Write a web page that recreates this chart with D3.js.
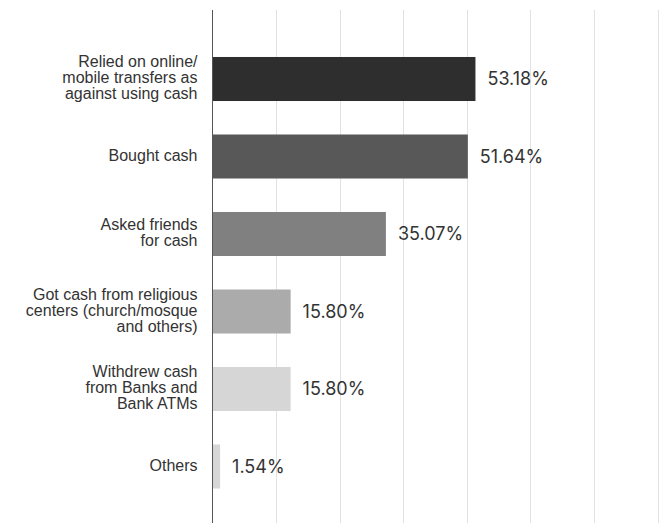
<!DOCTYPE html>
<html>
<head>
<meta charset="utf-8">
<script src="https://cdn.jsdelivr.net/npm/d3@7"></script>
<style>
  html, body { margin: 0; padding: 0; background: #fff; }
  svg { display: block; font-family: Inter, "Noto Sans", sans-serif; }
</style>
</head>
<body>
<svg id="chart" width="659" height="523"></svg>
<script>
// Ways people got cash (share of respondents)
const categories = [
  ["Relied on online/", "mobile transfers as", "against using cash"],
  ["Bought cash"],
  ["Asked friends", "for cash"],
  ["Got cash from religious", "centers (church/mosque", "and others)"],
  ["Withdrew cash", "from Banks and", "Bank ATMs"],
  ["Others"]
];
const values = [53.18, 51.64, 35.07, 15.80, 15.80, 1.54];
const valueLabels = ["53.18%", "51.64%", "35.07%", "15.80%", "15.80%", "1.54%"];
const barColors = ["#2e2e2e", "#585858", "#808080", "#ababab", "#d6d6d6", "#d6d6d6"];

const svg = d3.select("#chart");
const plot = { left: 212.5, right: 657.5, top: 10, bottom: 523 };
const xMax = 90, gridCount = 7;

const x = d3.scaleLinear().domain([0, xMax]).range([plot.left, plot.right]);
const y = d3.scaleBand()
  .domain(d3.range(categories.length))
  .range([40.25, 505.25])
  .paddingInner(0.432)
  .paddingOuter(0.216);

// vertical gridlines
const gridVals = d3.range(1, gridCount + 1).map(i => i * xMax / gridCount);
svg.append("g")
  .selectAll("line")
  .data(gridVals)
  .join("line")
  .attr("x1", d => Math.round(x(d)) + 0.5)
  .attr("x2", d => Math.round(x(d)) + 0.5)
  .attr("y1", plot.top)
  .attr("y2", plot.bottom)
  .attr("stroke", "#e2e2e2")
  .attr("stroke-width", 1);

// bars
svg.append("g")
  .selectAll("rect")
  .data(values)
  .join("rect")
  .attr("x", x(0))
  .attr("y", (d, i) => y(i))
  .attr("width", d => x(d) - x(0))
  .attr("height", y.bandwidth())
  .attr("fill", (d, i) => barColors[i]);

// category axis
const yAxis = d3.axisLeft(y).tickSize(0).tickFormat("");
const ag = svg.append("g").attr("transform", `translate(${plot.left},0)`).call(yAxis);
ag.select(".domain").remove();
svg.append("line")
  .attr("x1", plot.left).attr("x2", plot.left)
  .attr("y1", plot.top).attr("y2", plot.bottom)
  .attr("stroke", "#555").attr("stroke-width", 1);

const lineH = 16;
ag.selectAll(".tick").each(function(d) {
  const lines = categories[d];
  const t = d3.select(this).append("text")
    .attr("text-anchor", "end")
    .attr("fill", "#333")
    .attr("font-size", 16)
    .attr("x", -15);
  lines.forEach((ln, j) => {
    t.append("tspan")
      .attr("x", -15)
      .attr("y", (j - (lines.length - 1) / 2) * lineH - 1.5)
      .attr("dy", "0.35em")
      .text(ln);
  });
});

// value labels
svg.append("g")
  .selectAll("text")
  .data(values)
  .join("text")
  .attr("x", d => x(d) + 12)
  .attr("y", (d, i) => y(i) + y.bandwidth() / 2)
  .attr("dy", "0.35em")
  .attr("fill", "#333")
  .attr("font-size", 18)
  .text((d, i) => valueLabels[i]);
</script>
</body>
</html>
